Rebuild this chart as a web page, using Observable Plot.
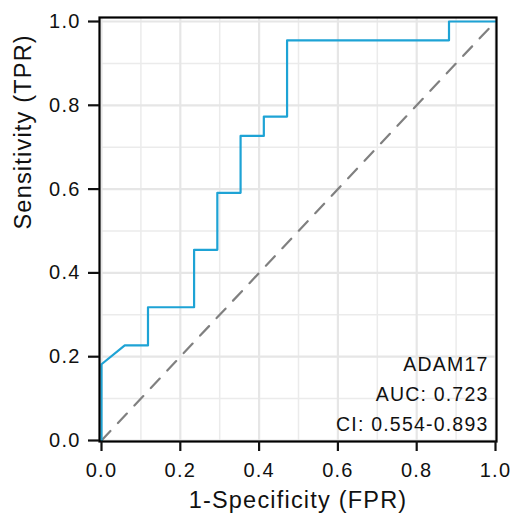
<!DOCTYPE html>
<html>
<head>
<meta charset="utf-8">
<script src="https://cdn.jsdelivr.net/npm/d3@7"></script>
<script src="https://cdn.jsdelivr.net/npm/@observablehq/plot@0.6"></script>
<style>
  html, body { margin: 0; padding: 0; background: #fff; }
  #chart svg { font-family: "Liberation Sans", Arial, sans-serif; letter-spacing: 1.2px; }
</style>
</head>
<body>
<div id="chart"></div>
<script>
// ROC curve points (false positive rate, true positive rate)
const fpr = [0, 0, 0.059, 0.118, 0.118, 0.235, 0.235, 0.294, 0.294, 0.353, 0.353, 0.412, 0.412, 0.471, 0.471, 0.882, 0.882, 1.0];
const tpr = [0, 0.182, 0.227, 0.227, 0.318, 0.318, 0.455, 0.455, 0.591, 0.591, 0.727, 0.727, 0.773, 0.773, 0.955, 0.955, 1.0, 1.0];
const diagonal = [0, 1];
const majorTicks = [0, 0.2, 0.4, 0.6, 0.8, 1.0];
const minorTicks = [0.1, 0.3, 0.5, 0.7, 0.9];
const annotationLines = ["ADAM17", "AUC: 0.723", "CI: 0.554-0.893"];
const xTitle = "1-Specificity (FPR)";
const yTitle = "Sensitivity (TPR)";

const roc = fpr.map((x, i) => ({x, y: tpr[i]}));

const chart = Plot.plot({
  width: 512,
  height: 516,
  marginLeft: 99,
  marginRight: 16,
  marginTop: 17,
  marginBottom: 75,
  x: {domain: [-0.00508, 1.00254]},
  y: {domain: [-0.00239, 1.00955]},
  marks: [
    Plot.ruleX(minorTicks, {stroke: "#ebebeb", strokeWidth: 1.5}),
    Plot.ruleY(minorTicks, {stroke: "#ebebeb", strokeWidth: 1.5}),
    Plot.ruleX(majorTicks, {stroke: "#e6e6e6", strokeWidth: 2.2}),
    Plot.ruleY(majorTicks, {stroke: "#e6e6e6", strokeWidth: 2.2}),
    Plot.line(diagonal, {x: d => d, y: d => d, stroke: "#808080", strokeWidth: 2.2, strokeDasharray: "13,11"}),
    Plot.line(roc, {x: "x", y: "y", stroke: "#1ea3d5", strokeWidth: 2.2, curve: "linear"}),
    Plot.text([annotationLines.join("\n")], {
      frameAnchor: "bottom-right", textAnchor: "end", lineAnchor: "bottom",
      lineHeight: 1.52, fontSize: 19.5, fill: "#111", dx: -8, dy: -11
    }),
    Plot.frame({stroke: "#000", strokeWidth: 2.2}),
    Plot.axisX(majorTicks, {
      tickSize: 10, tickPadding: 11, strokeWidth: 2.2, fontSize: 20,
      tickFormat: d => d.toFixed(1), label: null, color: "#111"
    }),
    Plot.axisY(majorTicks, {
      tickSize: 11, tickPadding: 8, strokeWidth: 2.2, fontSize: 20,
      tickFormat: d => d.toFixed(1), label: null, color: "#111"
    }),
    Plot.text([xTitle], {frameAnchor: "bottom", lineAnchor: "middle", dy: 59, fontSize: 23.5, fill: "#111"}),
    Plot.text([yTitle], {frameAnchor: "left", lineAnchor: "middle", rotate: -90, dx: -76, fontSize: 23.5, fill: "#111"})
  ]
});
document.getElementById("chart").appendChild(chart);
</script>
</body>
</html>
